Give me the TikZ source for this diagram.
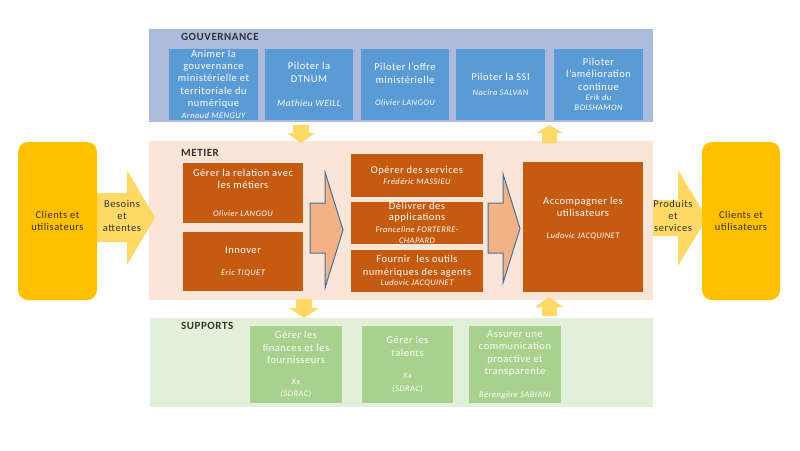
\documentclass[tikz,border=0pt]{standalone}
\usepackage{fontspec}
\setmainfont{Carlito}[LetterSpace=5]
\usepackage{xcolor}

\definecolor{govback}{RGB}{172,186,221}
\definecolor{govblue}{RGB}{91,155,213}
\definecolor{metback}{RGB}{251,229,214}
\definecolor{metbrown}{RGB}{197,90,17}
\definecolor{supback}{RGB}{226,240,217}
\definecolor{supgreen}{RGB}{169,209,142}
\definecolor{clientgold}{RGB}{255,192,0}
\definecolor{arrowgold}{RGB}{255,217,102}
\definecolor{bigpeach}{RGB}{244,177,131}
\definecolor{bigedge}{RGB}{65,113,156}
\definecolor{darktext}{RGB}{50,50,50}

\newcommand{\who}[1]{{\fontsize{8.5}{9}\selectfont\itshape #1}}

\begin{document}
\begin{tikzpicture}[x=1pt, y=-1pt,
    band/.style={draw=none, inner sep=0pt},
    heading/.style={anchor=west, text=darktext, inner sep=0pt, font=\fontsize{11}{12}\selectfont\bfseries},
    govbox/.style={fill=govblue, text=white, inner sep=0pt, align=center, font=\fontsize{10.5}{12.3}\selectfont},
    metbox/.style={fill=metbrown, text=white, inner sep=0pt, align=center, font=\fontsize{10.5}{12.3}\selectfont},
    supbox/.style={fill=supgreen, text=white, inner sep=0pt, align=center, font=\fontsize{10.5}{12.5}\selectfont},
    client/.style={fill=clientgold, rounded corners=10pt, text=darktext, inner sep=0pt, align=center, font=\fontsize{10.5}{12.5}\selectfont},
    flowtext/.style={text=darktext, align=center, inner sep=0pt, font=\fontsize{10.5}{12.3}\selectfont},
    yelarrow/.style={fill=arrowgold},
    bigarrow/.style={fill=bigpeach, draw=bigedge, line width=1pt, line join=miter}]

    % Page
    \fill[white] (0,0) rectangle (800,450);
    \useasboundingbox (0,0) rectangle (800,450);

    % Bands
    \node[band, fill=govback, minimum width=504pt, minimum height=93pt] (gov) at (401,75.5) {};
    \node[band, fill=metback, minimum width=504pt, minimum height=159pt] (met) at (401,220.5) {};
    \node[band, fill=supback, minimum width=503pt, minimum height=89pt] (sup) at (401.5,362.5) {};

    \node[heading] (govtitle) at (181,37) {GOUVERNANCE};
    \node[heading] (mettitle) at (181,153) {METIER};
    \node[heading] (suptitle) at (181,326) {SUPPORTS};

    % Gouvernance
    \node[govbox, minimum width=89pt, minimum height=71pt] (g1) at (213.5,84.5)
        {Animer la\\gouvernance\\ministérielle et\\territoriale du\\numérique\\\who{Arnaud MENGUY}};
    \node[govbox, minimum width=88pt, minimum height=71pt] (g2) at (309,84.5)
        {Piloter la\\DTNUM\\[12pt]{\fontsize{9.5}{10}\selectfont\itshape Mathieu WEILL}};
    \node[govbox, minimum width=88pt, minimum height=71pt] (g3) at (405,84.5)
        {Piloter l’offre\\ministérielle\\[10pt]\who{Olivier LANGOU}};
    \node[govbox, minimum width=89pt, minimum height=71pt] (g4) at (500.5,84.5)
        {Piloter la SSI\\[2pt]\who{Nacira SALVAN}};
    \node[govbox, minimum width=89pt, minimum height=71pt] (g5) at (598.5,84.5)
        {Piloter\\l’amélioration\\continue\\[-2pt]\who{Erik du}\\[-2pt]\who{BOISHAMON}};

    % Metier
    \node[metbox, minimum width=120pt, minimum height=60pt] (m1) at (243,193)
        {Gérer la relation avec\\les métiers\\[16pt]\who{Olivier LANGOU}};
    \node[metbox, minimum width=120pt, minimum height=59pt] (m2) at (243,261.5)
        {Innover\\[10pt]\who{Eric TIQUET}};
    \node[metbox, minimum width=132pt, minimum height=43pt] (o1) at (417,175.5)
        {Opérer des services\\[-1pt]\who{Frédéric MASSIEU}};
    \node[metbox, minimum width=132pt, minimum height=42pt] (o2) at (417,223)
        {Délivrer des\\[-1pt]applications\\[-1pt]\who{Franceline FORTERRE-}\\[-1pt]\who{CHAPARD}};
    \node[metbox, minimum width=132pt, minimum height=42pt] (o3) at (417,271)
        {Fournir~ les outils\\numériques des agents\\[-2pt]\who{Ludovic JACQUINET}};
    \node[metbox, minimum width=120pt, minimum height=130pt] (acc) at (583,227)
        {Accompagner les\\utilisateurs\\[10pt]\who{Ludovic JACQUINET}\\[6pt]\mbox{}};

    % Supports
    \node[supbox, minimum width=92pt, minimum height=77pt] (s1) at (296,364.5)
        {Gérer les\\finances et les\\fournisseurs\\[8pt]\who{Xx}\\\who{(SDRAC)}};
    \node[supbox, minimum width=91pt, minimum height=77pt] (s2) at (407.5,364.5)
        {Gérer les\\talents\\[10pt]\who{Xx}\\\who{(SDRAC)}};
    \node[supbox, minimum width=92pt, minimum height=77pt] (s3) at (515,364.5)
        {Assurer une\\communication\\proactive et\\transparente\\[10pt]\who{Bérengère SABIANI}};

    % Flow arrows in and out
    \fill[yelarrow] (97,193) -- (127,193) -- (127,170) -- (155,217.5) -- (127,265) -- (127,242) -- (97,242) -- cycle;
    \fill[yelarrow] (653,200) -- (678,200) -- (678,170) -- (707,218) -- (678,266) -- (678,236) -- (653,236) -- cycle;
    \node[flowtext] (needs) at (122,216) {Besoins\\et\\attentes};
    \node[flowtext] (outputs) at (673,216) {Produits\\et\\services};

    % Clients
    \node[client, minimum width=79pt, minimum height=158pt] (cin) at (57.5,221) {Clients et\\utilisateurs};
    \node[client, minimum width=78pt, minimum height=158pt] (cout) at (741,221) {Clients et\\utilisateurs};

    % Big arrows inside the metier band
    \draw[bigarrow] (310,203) -- (325,203) -- (325,172) -- (343,230) -- (325,288) -- (325,253) -- (310,253) -- cycle;
    \draw[bigarrow] (488,203) -- (503,203) -- (503,174) -- (520,228.5) -- (503,283) -- (503,253) -- (488,253) -- cycle;

    % Links between bands
    \fill[yelarrow] (293,125) -- (309,125) -- (309,133) -- (315,133) -- (301,143) -- (287,133) -- (293,133) -- cycle;
    \fill[yelarrow] (542,143) -- (557,143) -- (557,133) -- (563,133) -- (549.5,125) -- (536,133) -- (542,133) -- cycle;
    \fill[yelarrow] (296,299) -- (312,299) -- (312,308) -- (319,308) -- (304,318) -- (289,308) -- (296,308) -- cycle;
    \fill[yelarrow] (542,316) -- (557,316) -- (557,307) -- (563,307) -- (549,297) -- (535,307) -- (542,307) -- cycle;

\end{tikzpicture}
\end{document}
